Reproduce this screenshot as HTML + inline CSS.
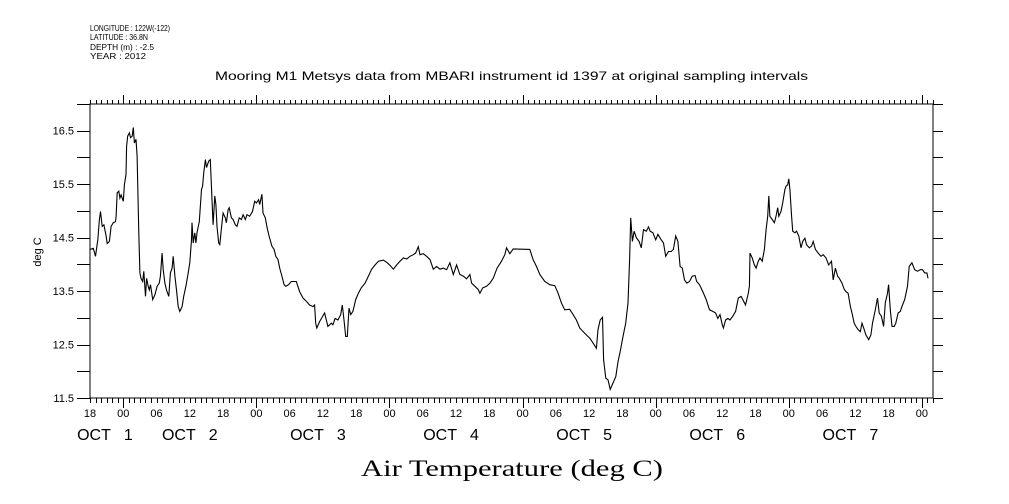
<!DOCTYPE html>
<html><head><meta charset="utf-8"><style>
html,body{margin:0;padding:0;background:#fff;}
svg{display:block;font-family:"Liberation Sans",sans-serif;}
</style></head><body>
<svg id="chart" width="1009" height="504" viewBox="0 0 1009 504" xmlns="http://www.w3.org/2000/svg">
<g font-size="8" fill="#000">
<text x="90" y="31" textLength="80" lengthAdjust="spacingAndGlyphs">LONGITUDE : 122W(-122)</text>
<text x="90" y="40" textLength="58" lengthAdjust="spacingAndGlyphs">LATITUDE : 36.8N</text>
<text x="90" y="50" textLength="64" lengthAdjust="spacingAndGlyphs">DEPTH (m) : -2.5</text>
<text x="90" y="59" textLength="56" lengthAdjust="spacingAndGlyphs">YEAR : 2012</text>
</g>
<text x="215" y="80" font-size="12" textLength="593" lengthAdjust="spacingAndGlyphs">Mooring M1 Metsys data from MBARI instrument id 1397 at original sampling intervals</text>
<text transform="translate(41,252) rotate(-90)" font-size="11" text-anchor="middle">deg C</text>
<text x="512" y="476" font-family="'Liberation Serif',serif" font-size="23" text-anchor="middle" textLength="302" lengthAdjust="spacingAndGlyphs">Air Temperature (deg C)</text>
<g id="axes"></g>
<g id="plot"></g>
</svg>
<script>
const hours=[0,0.6,1,1.4,1.7,1.9,2.2,2.5,2.9,3.1,3.5,3.8,4.2,4.6,4.7,4.9,5.2,5.4,5.6,6.0,6.2,6.5,6.6,6.8,7.1,7.3,7.6,7.8,8.0,8.3,8.5,8.8,9.0,9.2,9.5,9.7,10.0,10.2,10.5,10.7,10.9,11.3,11.7,12.1,12.5,12.7,13.0,13.2,13.5,13.8,14.2,14.5,14.8,15.0,15.3,15.6,15.9,16.2,16.6,16.9,17.3,17.7,18.0,18.3,18.4,18.6,18.9,19.1,19.3,19.7,20.1,20.3,20.5,20.8,21.0,21.4,21.7,22.0,22.2,22.5,22.7,22.9,23.2,23.4,23.8,24.0,24.4,24.6,24.9,25.1,25.5,25.8,26.2,26.5,26.9,27.3,27.6,28.0,28.3,28.8,29.3,29.7,30.0,30.4,30.6,31.0,31.2,31.6,32.0,32.3,32.8,33.2,33.5,33.9,34.2,34.6,35.0,35.3,35.8,36.3,36.8,37.2,37.8,38.4,39.0,39.6,40.2,40.5,40.7,40.9,41.4,42.3,42.9,43.5,43.8,44.2,44.7,45.2,45.5,45.8,46.1,46.4,46.7,47.0,47.4,47.9,48.4,48.9,49.6,50.2,50.8,51.4,52.0,52.9,53.6,54.1,54.7,55.3,55.9,56.5,57.1,57.7,58.3,58.7,59.2,59.5,60.1,60.7,61.3,61.9,62.5,63.1,63.7,64.3,64.9,65.5,66.1,66.7,67.3,67.9,68.5,68.8,69.4,70.0,70.3,70.8,71.5,72.1,72.7,73.4,74.2,74.8,75.1,75.7,76.3,79.3,79.9,80.5,81.1,82.0,82.9,83.8,84.4,85.0,85.6,86.5,87.1,87.7,88.3,89.2,90.1,90.7,91.3,91.6,92.0,92.4,92.6,93.0,93.4,93.8,94.3,94.8,95.2,95.6,96.1,96.6,97.0,97.3,97.5,97.8,98.1,98.5,99.0,99.4,99.8,100.3,100.7,101.0,101.5,102.0,102.4,103.0,103.4,103.8,104.3,104.8,105.2,105.6,106.0,106.4,106.8,107.2,107.6,108.1,108.6,109.1,109.4,109.9,110.5,111.1,111.7,112.3,112.8,113.2,113.6,114.0,114.2,114.6,115.0,115.4,115.9,116.4,116.9,117.4,117.7,118.2,118.7,118.9,119.0,119.4,119.8,120.1,120.5,120.8,121.2,121.6,121.9,122.2,122.4,122.6,123.0,123.4,123.7,124.0,124.2,124.6,124.9,125.3,125.5,125.8,126.0,126.2,126.5,126.7,127.1,127.4,127.8,128.2,128.5,128.9,129.2,129.7,130.1,130.4,130.8,131.3,131.8,132.2,132.7,133.2,133.7,134.0,134.4,134.8,135.1,135.6,136.0,136.3,136.7,137.1,137.4,137.8,138.1,138.5,138.9,139.2,139.6,139.9,140.4,140.8,141.1,141.6,142.0,142.3,142.7,143.1,143.4,143.8,144.0,144.3,144.6,145.0,145.3,145.7,146.1,146.4,146.9,147.4,147.7,148.2,148.7,149.2,149.7,150.1,150.5,150.9,151.1];
const temps=[14.28,14.3,14.15,14.46,14.84,14.99,14.71,14.74,14.53,14.39,14.43,14.71,14.78,14.8,14.9,15.34,15.37,15.24,15.3,15.18,15.49,15.68,16.21,16.4,16.46,16.37,16.4,16.56,16.27,16.34,16.03,14.59,13.84,13.74,13.68,13.87,13.4,13.74,13.59,13.52,13.62,13.34,13.43,13.59,13.65,13.78,14.21,13.9,13.65,13.52,13.4,13.84,13.93,14.15,13.78,13.52,13.21,13.12,13.21,13.4,13.59,13.84,14.03,14.46,14.78,14.4,14.59,14.4,14.59,14.8,15.4,15.46,15.71,15.96,15.81,15.93,15.96,15.21,14.74,15.28,15.12,14.71,14.4,14.37,14.78,14.96,14.87,14.78,15.02,15.06,14.87,14.84,14.74,14.71,14.87,14.84,14.93,14.84,14.93,14.9,14.99,15.18,15.15,15.21,15.12,15.31,14.96,14.87,14.65,14.53,14.34,14.28,14.15,14.09,13.93,13.78,13.62,13.59,13.62,13.68,13.68,13.68,13.49,13.37,13.31,13.24,13.21,13.24,12.9,12.81,12.93,13.09,12.84,12.9,12.87,12.99,12.96,13.06,13.24,12.96,12.65,12.65,13.18,13.06,13.12,13.34,13.46,13.56,13.65,13.78,13.91,13.99,14.06,14.08,14.03,13.98,13.91,13.99,14.06,14.12,14.1,14.15,14.18,14.21,14.33,14.18,14.2,14.15,14.09,13.91,13.96,13.91,13.93,13.9,14.03,13.81,13.99,13.81,13.78,13.73,13.81,13.65,13.59,13.53,13.46,13.56,13.59,13.65,13.74,13.93,14.06,14.18,14.31,14.2,14.29,14.28,14.09,13.96,13.81,13.68,13.62,13.6,13.46,13.28,13.15,13.16,13.06,12.96,12.81,12.71,12.62,12.53,12.43,12.78,12.96,13.01,12.21,11.87,11.84,11.66,11.78,11.9,12.18,12.37,12.65,12.9,13.28,14.09,14.87,14.43,14.62,14.5,14.43,14.31,14.65,14.62,14.7,14.62,14.59,14.46,14.56,14.46,14.4,14.15,14.24,14.24,14.28,14.53,14.43,13.96,13.93,13.71,13.65,13.68,13.78,13.79,13.68,13.62,13.49,13.34,13.15,13.12,13.09,12.99,13.06,12.87,12.81,12.96,12.99,12.96,13.03,13.12,13.37,13.4,13.34,13.24,13.46,13.59,14.21,14.12,13.99,13.93,14.06,14.12,14.06,14.28,14.65,14.9,15.28,14.9,14.84,14.78,14.9,15.06,14.9,14.99,15.15,15.4,15.46,15.49,15.6,15.4,14.9,14.62,14.59,14.62,14.53,14.31,14.43,14.49,14.37,14.31,14.34,14.43,14.28,14.21,14.15,14.18,14.12,13.99,14.06,13.71,13.93,13.78,13.74,13.65,13.53,13.49,13.46,13.21,13.09,12.9,12.84,12.78,12.74,12.9,12.78,12.68,12.59,12.68,12.9,13.15,13.37,13.09,13.03,12.84,13.28,13.46,13.62,13.15,12.84,12.84,12.9,13.09,13.12,13.21,13.34,13.59,13.96,14.03,13.9,13.87,13.9,13.9,13.84,13.84,13.74];
const yTickValues=[11.5,12.5,13.5,14.5,15.5,16.5];
const yTickLabels=["11.5","12.5","13.5","14.5","15.5","16.5"];
const xTickHours=[0,6,12,18,24,30,36,42,48,54,60,66,72,78,84,90,96,102,108,114,120,126,132,138,144,150];
const xTickLabels=["18","00","06","12","18","00","06","12","18","00","06","12","18","00","06","12","18","00","06","12","18","00","06","12","18","00"];
const dayLabelHours=[2.7,18,41.1,65.1,89.1,113.1,137.1];
const dayLabels=["OCT   1","OCT   2","OCT   3","OCT   4","OCT   5","OCT   6","OCT   7"];

const L=90,R=933,T=104,B=398,H0=0,H1=152,Y0=11.5,Y1=17.0;
const xs=h=>L+(h-H0)/(H1-H0)*(R-L);
const ys=v=>B-(v-Y0)/(Y1-Y0)*(B-T);
const NS="http://www.w3.org/2000/svg";
const axes=document.getElementById('axes'),plot=document.getElementById('plot');
function mk(tag,attrs,parent){const e=document.createElementNS(NS,tag);for(const k in attrs)e.setAttribute(k,attrs[k]);parent.appendChild(e);return e;}

const frame=mk('rect',{x:L,y:T,width:R-L,height:B-T,fill:'none',stroke:'#000','stroke-width':1,'shape-rendering':'crispEdges'},axes);



let d='';
for(let h=H0;h<=H1;h++){
  const x=Math.round(xs(h))+0.5;
  const major=((h-6)%24===0);
  const len=major?10:5;
  d+=`M${x},${B}v${len}M${x},${T}v${-(major?9:4)}`;
}
for(let v=Y0;v<=Y1+0.001;v+=0.5){
  const y=Math.round(ys(v))+0.5;
  d+=`M${L},${y}h-13M${R},${y}h10`;
}
const ticks=mk('path',{d:d,stroke:'#000','stroke-width':1,fill:'none','shape-rendering':'crispEdges'},axes);



yTickValues.forEach((v,i)=>{
  const t=mk('text',{x:74,y:ys(v)+4,'font-size':11,'text-anchor':'end'},axes);
  t.textContent=yTickLabels[i];
  
  
});
xTickHours.forEach((h,i)=>{
  const t=mk('text',{x:xs(h),y:417,'font-size':11,'text-anchor':'middle'},axes);
  t.textContent=xTickLabels[i];
  
  
});
dayLabelHours.forEach((h,i)=>{
  const t=mk('text',{x:xs(h),y:440,'font-size':16,'text-anchor':'middle','xml:space':'preserve'},axes);
  t.setAttribute('style','white-space:pre');
  t.textContent=dayLabels[i];
  
  
});

const pts=hours.map((h,i)=>xs(h).toFixed(1)+','+ys(temps[i]).toFixed(1)).join(' ');
const line=mk('polyline',{points:pts,fill:'none',stroke:'#000','stroke-width':1.1},plot);


</script>
</body></html>
